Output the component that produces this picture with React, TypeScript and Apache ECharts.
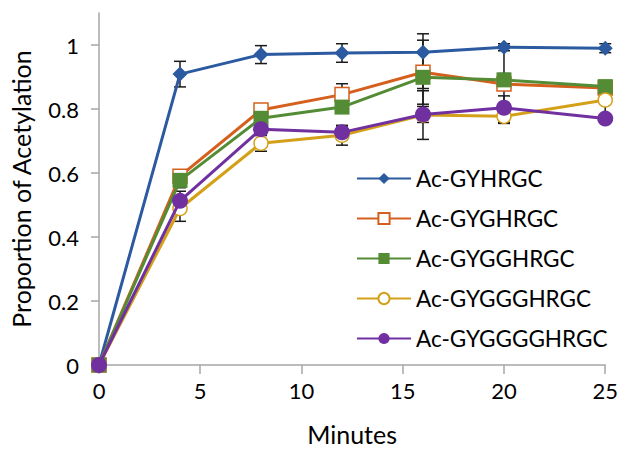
import React, { useEffect, useRef } from "react";
import * as echarts from "echarts";

const minutes = [0, 4, 8, 12, 16, 20, 25];
const seriesNames = ["Ac-GYHRGC", "Ac-GYGHRGC", "Ac-GYGGHRGC", "Ac-GYGGGHRGC", "Ac-GYGGGGHRGC"];
const gyhrgc = [0, 0.909, 0.970, 0.975, 0.977, 0.993, 0.990];
const gyghrgc = [0, 0.590, 0.797, 0.845, 0.915, 0.878, 0.866];
const gygghrgc = [0, 0.577, 0.771, 0.806, 0.899, 0.891, 0.870];
const gyggghrgc = [0, 0.489, 0.693, 0.718, 0.781, 0.777, 0.828];
const gygggghrgc = [0, 0.513, 0.737, 0.727, 0.783, 0.804, 0.770];
const errGyhrgc = [0, 0.040, 0.028, 0.029, 0.058, 0.011, 0.014];
const errGyghrgc = [0, 0.012, 0.010, 0.034, 0.100, 0.120, 0.015];
const errGygghrgc = [0, 0.023, 0.020, 0.015, 0.035, 0.020, 0.015];
const errGyggghrgc = [0, 0.040, 0.025, 0.031, 0.076, 0.022, 0.060];
const errGygggghrgc = [0, 0.030, 0.020, 0.020, 0.025, 0.037, 0.010];
const yTicks = [0, 0.2, 0.4, 0.6, 0.8, 1];

const values = [gyhrgc, gyghrgc, gygghrgc, gyggghrgc, gygggghrgc];
const errors = [errGyhrgc, errGyghrgc, errGygghrgc, errGyggghrgc, errGygggghrgc];
const colors = ["#2C5AA0", "#D5601E", "#538C35", "#D4A017", "#7030A0"];
const symbols = ["diamond", "rect", "rect", "circle", "circle"];
const hollow = [false, true, false, true, false];
const symbolSizes = [15, 14, 15, 14, 16];

const FONT = "Lato";

export default function App() {
  const ref = useRef<HTMLDivElement>(null);
  useEffect(() => {
    if (!ref.current) return;
    const chart = echarts.init(ref.current, undefined, { renderer: "svg" });

    const errData: number[][] = [];
    values.forEach((vals, s) => {
      vals.forEach((v, i) => {
        if (errors[s][i] > 0) errData.push([minutes[i], v - errors[s][i], v + errors[s][i]]);
      });
    });

    const lineSeries = values.map((vals, s) => ({
      type: "line",
      name: seriesNames[s],
      data: vals.map((v, i) => [minutes[i], v]),
      symbol: symbols[s],
      symbolSize: symbolSizes[s],
      showAllSymbol: true,
      z: 3 + s,
      lineStyle: { color: colors[s], width: 3 },
      itemStyle: hollow[s]
        ? { color: "#ffffff", borderColor: colors[s], borderWidth: 1.5 }
        : { color: colors[s], borderColor: colors[s], borderWidth: 0 },
      emphasis: { disabled: true },
    }));

    chart.setOption({
      animation: false,
      backgroundColor: "#ffffff",
      grid: { left: 99, right: 11, top: 13, bottom: 83, containLabel: false },
      legend: {
        orient: "vertical",
        left: 351,
        top: 162,
        itemWidth: 54,
        itemHeight: 14,
        itemGap: 17,
        data: seriesNames,
        textStyle: { fontFamily: FONT, fontSize: 22.5, color: "#000000" },
      },
      xAxis: {
        type: "value",
        min: 0,
        max: 25,
        interval: 5,
        name: "Minutes",
        nameLocation: "middle",
        nameGap: 56,
        nameTextStyle: { fontFamily: FONT, fontSize: 25, color: "#000000" },
        axisLine: { lineStyle: { color: "#A6A6A6", width: 1.5 } },
        axisTick: { show: true, inside: false, length: 9, lineStyle: { color: "#A6A6A6", width: 1.5 } },
        axisLabel: { fontFamily: FONT, fontSize: 22, color: "#000000", margin: 14 },
        splitLine: { show: false },
      },
      yAxis: {
        type: "value",
        min: 0,
        max: 1.1,
        interval: 0.2,
        name: "Proportion of Acetylation",
        nameLocation: "middle",
        nameGap: 66,
        nameTextStyle: { fontFamily: FONT, fontSize: 25, color: "#000000" },
        axisLine: { show: true, lineStyle: { color: "#A6A6A6", width: 1.5 } },
        axisTick: { show: true, length: 8, customValues: yTicks, lineStyle: { color: "#A6A6A6", width: 1.5 } },
        axisLabel: {
          fontFamily: FONT,
          fontSize: 22,
          color: "#000000",
          margin: 20,
          customValues: yTicks,
          formatter: (v: number) => (v > 1.0001 ? "" : String(Math.round(v * 10) / 10)),
        },
        splitLine: { show: false },
      },
      series: [
        {
          type: "custom",
          name: "errors",
          z: 2,
          silent: true,
          data: errData,
          encode: { x: 0, y: [1, 2] },
          renderItem: (params: any, api: any) => {
            const x = api.value(0);
            const lo = api.coord([x, api.value(1)]);
            const hi = api.coord([x, api.value(2)]);
            const cap = 6;
            const style = { stroke: "#1a1a1a", lineWidth: 1.5 };
            return {
              type: "group",
              children: [
                { type: "line", shape: { x1: lo[0], y1: lo[1], x2: hi[0], y2: hi[1] }, style },
                { type: "line", shape: { x1: lo[0] - cap, y1: lo[1], x2: lo[0] + cap, y2: lo[1] }, style },
                { type: "line", shape: { x1: hi[0] - cap, y1: hi[1], x2: hi[0] + cap, y2: hi[1] }, style },
              ],
            };
          },
        },
        ...lineSeries,
      ],
    });
    return () => chart.dispose();
  }, []);
  return <div ref={ref} style={{ width: 621, height: 451, position: "absolute", left: 0, top: 0 }} />;
}
